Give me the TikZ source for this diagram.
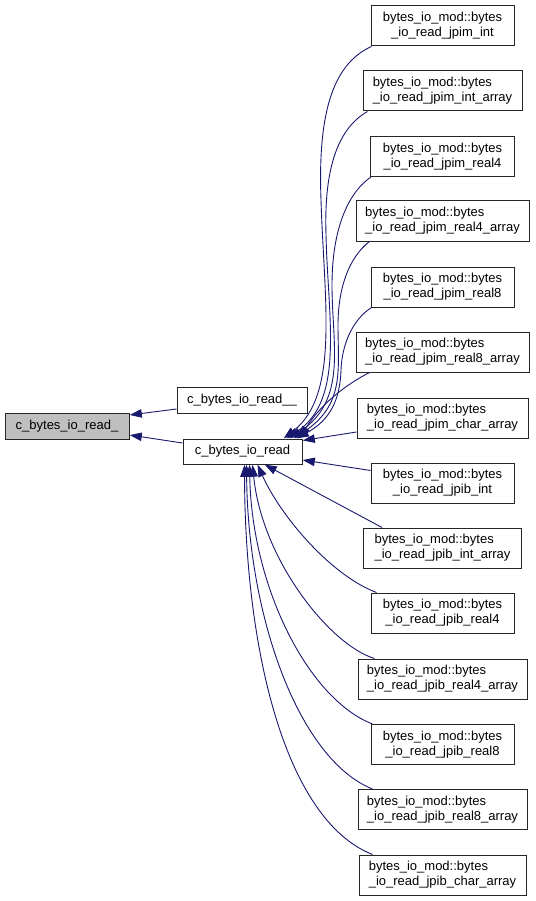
\documentclass[tikz,border=0pt]{standalone}
\usepackage{fontspec}
\setmainfont{Liberation Sans}
\usetikzlibrary{arrows.meta,calc}
\definecolor{edgeblue}{HTML}{191970}
\definecolor{rootgray}{HTML}{BFBFBF}
\begin{document}
\begin{tikzpicture}[x=1pt,y=-1pt,
  fnbox/.style={draw=black!85, line width=1pt, fill=white, inner sep=0pt,
    font=\fontsize{13}{15}\selectfont},
  single/.style={fnbox, minimum height=26pt},
  twoc/.style={fnbox, minimum height=40pt, align=center},
  twol/.style={fnbox, minimum height=40pt, align=left},
  edge/.style={draw=edgeblue, line width=0.9pt,
    -{Triangle[length=12pt,width=8.5pt]}, shorten >=0.3pt}]
\fill[white] (0,0) rectangle (535,901);
\useasboundingbox (0,0) rectangle (535,901);

% left column
\node[single, fill=rootgray, minimum width=124pt] (root) at (67,426) {c\_bytes\_io\_read\_};
\node[single, minimum width=130pt] (readuu) at (242,400) {c\_bytes\_io\_read\_\_};
\node[single, minimum width=119pt, minimum height=25pt] (cread) at (242.5,451.5) {c\_bytes\_io\_read};

% right column
\node[twoc, minimum width=143pt] (m1) at (442.5,26) {bytes\_io\_mod::bytes\\\_io\_read\_jpim\_int};
\node[twol, minimum width=159pt] (m2) at (442.5,91) {bytes\_io\_mod::bytes\\\_io\_read\_jpim\_int\_array};
\node[twoc, minimum width=144pt] (m3) at (442.5,156.5) {bytes\_io\_mod::bytes\\\_io\_read\_jpim\_real4};
\node[twol, minimum width=173pt] (m4) at (442.5,221) {bytes\_io\_mod::bytes\\\_io\_read\_jpim\_real4\_array};
\node[twoc, minimum width=143pt] (m5) at (442.5,287) {bytes\_io\_mod::bytes\\\_io\_read\_jpim\_real8};
\node[twol, minimum width=173pt] (m6) at (442.5,352) {bytes\_io\_mod::bytes\\\_io\_read\_jpim\_real8\_array};
\node[twol, minimum width=171pt] (m7) at (442.5,418) {bytes\_io\_mod::bytes\\\_io\_read\_jpim\_char\_array};
\node[twoc, minimum width=143pt] (b1) at (442.5,483) {bytes\_io\_mod::bytes\\\_io\_read\_jpib\_int};
\node[twol, minimum width=158pt] (b2) at (442.5,548) {bytes\_io\_mod::bytes\\\_io\_read\_jpib\_int\_array};
\node[twoc, minimum width=143pt] (b3) at (442.5,613) {bytes\_io\_mod::bytes\\\_io\_read\_jpib\_real4};
\node[twol, minimum width=169pt] (b4) at (442.5,679) {bytes\_io\_mod::bytes\\\_io\_read\_jpib\_real4\_array};
\node[twoc, minimum width=143pt] (b5) at (442.5,744.5) {bytes\_io\_mod::bytes\\\_io\_read\_jpib\_real8};
\node[twol, minimum width=169pt] (b6) at (442.5,809.5) {bytes\_io\_mod::bytes\\\_io\_read\_jpib\_real8\_array};
\node[twol, minimum width=167pt] (b7) at (442.5,875) {bytes\_io\_mod::bytes\\\_io\_read\_jpib\_char\_array};

% left edges
\draw[edge] ($(readuu.west)+(0,9)$) -- ($(root.east)+(0,-11)$);
\draw[edge] ($(cread.west)+(0,-8.5)$) -- ($(root.east)+(0,9)$);

% upper edges into top of c_bytes_io_read
\draw[edge] ($(m1.south west)+(1,0)$) .. controls (330,65) and (318,120) .. (321,200)
  .. controls (324,300) and (340,395) .. ($(cread.north west)+(101,0)$);
\draw[edge] ($(m2.south west)+(5,0)$) .. controls (335,130) and (324,175) .. (326,235)
  .. controls (328,320) and (345,400) .. ($(cread.north west)+(104,0)$);
\draw[edge] ($(m3.south west)+(1,0)$) .. controls (345,195) and (332,235) .. (332,285)
  .. controls (332,345) and (348,400) .. ($(cread.north west)+(107,0)$);
\draw[edge] ($(m4.south west)+(14,0)$) .. controls (348,258) and (338,290) .. (338,325)
  .. controls (338,370) and (345,405) .. ($(cread.north west)+(111,0)$);
\draw[edge] ($(m5.south west)+(1,0)$) .. controls (352,320) and (342,345) .. (341,370)
  .. controls (340,400) and (330,420) .. ($(cread.north west)+(114,0)$);
\draw[edge] ($(m6.south west)+(14,0)$) .. controls (345,385) and (320,405) .. ($(cread.north west)+(117,0)$);

% straight edges into right side
\draw[edge] ($(m7.west)+(0,14)$) -- ($(cread.east)+(0,-11)$);
\draw[edge] ($(b1.north west)+(0,8)$) -- ($(cread.east)+(0,8.5)$);

% lower edges into bottom of c_bytes_io_read
\draw[edge] ($(b2.north west)+(19,0)$) -- ($(cread.south west)+(82,0)$);
\draw[edge] ($(b3.north west)+(6,0)$) .. controls (330,575) and (280,515) .. ($(cread.south west)+(75,0)$);
\draw[edge] ($(b4.north west)+(17,0)$) .. controls (330,645) and (262,560) .. ($(cread.south west)+(70,0)$);
\draw[edge] ($(b5.north west)+(2,0)$) .. controls (310,700) and (252,590) .. ($(cread.south west)+(67,0)$);
\draw[edge] ($(b6.north west)+(15,0)$) .. controls (300,760) and (248,620) .. ($(cread.south west)+(64,0)$);
\draw[edge] ($(b7.north west)+(14,0)$) .. controls (285,820) and (245,650) .. ($(cread.south west)+(62,0)$);
\end{tikzpicture}
\end{document}
